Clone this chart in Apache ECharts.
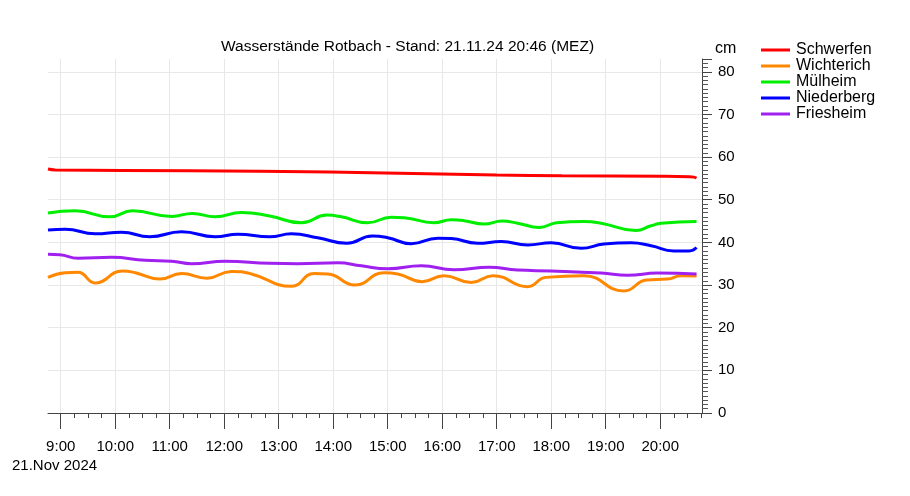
<!DOCTYPE html>
<html>
<head>
<meta charset="utf-8">
<script src="https://cdn.jsdelivr.net/npm/echarts@6/dist/echarts.min.js"></script>
<style>
html,body{margin:0;padding:0;background:#fff;}
#c{width:910px;height:496px;}
</style>
</head>
<body>
<div id="c"></div>
<script>
const DAY = '2024-11-21';
const titleText = 'Wasserstände Rotbach - Stand: 21.11.24 20:46 (MEZ)';
const dateLabel = '21.Nov 2024';
const unitLabel = 'cm';
const axisMin = '08:46';
const axisMax = '20:46';
const hourTicks = ['09:00','10:00','11:00','12:00','13:00','14:00','15:00','16:00','17:00','18:00','19:00','20:00'];
const quarterOffsets = [15, 30, 45];

const seriesNames = ['Schwerfen', 'Wichterich', 'Mülheim', 'Niederberg', 'Friesheim'];
const seriesColors = ['#ff0000', '#ff8800', '#00ee00', '#0000ff', '#a020f0'];

const schwerfenTimes  = ['08:46','08:54','11:22','13:56','17:00','18:12','20:02','20:32','20:37','20:40'];
const schwerfenValues = [57.2, 57.0, 56.8, 56.5, 55.8, 55.6, 55.5, 55.4, 55.3, 55.1];

const wichterichTimes  = ['08:46','09:05','09:19','09:38','10:08','10:22','10:49','11:13','11:41','12:08','12:30','13:14','13:39','13:54','14:24','14:56','15:11','15:38','16:02','16:32','16:56','17:34','17:54','18:36','19:20','19:45','20:08','20:23','20:40'];
const wichterichValues = [31.8, 32.9, 33.0, 30.5, 33.3, 32.9, 31.4, 32.7, 31.6, 33.2, 32.6, 29.7, 32.7, 32.6, 30.0, 32.9, 32.6, 30.8, 32.2, 30.6, 32.2, 29.6, 31.8, 32.2, 28.6, 31.2, 31.4, 32.2, 32.1];

const muelheimTimes  = ['08:46','09:16','09:54','10:19','11:02','11:25','11:50','12:19','12:50','13:25','13:53','14:09','14:38','15:04','15:18','15:51','16:10','16:24','16:46','17:06','17:23','17:47','18:06','18:36','18:55','19:33','19:50','20:01','20:40'];
const muelheimValues = [46.9, 47.4, 46.0, 47.4, 46.1, 46.8, 46.0, 47.0, 46.2, 44.6, 46.4, 46.0, 44.6, 45.9, 45.8, 44.6, 45.3, 45.1, 44.3, 45.0, 44.5, 43.5, 44.6, 44.9, 44.5, 42.8, 43.9, 44.5, 44.9];

const niederbergTimes  = ['08:46','09:05','09:38','10:07','10:38','11:13','11:50','12:15','12:50','13:14','13:43','14:15','14:43','15:00','15:26','15:55','16:10','16:39','17:05','17:34','18:00','18:33','18:58','19:28','19:50','20:15','20:32','20:40'];
const niederbergValues = [42.9, 43.1, 42.0, 42.4, 41.3, 42.5, 41.3, 41.9, 41.3, 42.0, 41.1, 39.8, 41.5, 41.1, 39.7, 41.0, 40.9, 39.8, 40.2, 39.4, 39.9, 38.6, 39.6, 39.9, 39.2, 38.0, 38.0, 38.8];

const friesheimTimes  = ['08:46','08:59','09:19','09:56','10:33','11:02','11:24','12:01','12:50','13:21','14:05','14:31','15:00','15:37','16:13','16:52','17:23','18:00','18:55','19:24','19:57','20:40'];
const friesheimValues = [37.2, 37.1, 36.3, 36.5, 35.8, 35.6, 35.0, 35.6, 35.1, 35.0, 35.2, 34.5, 33.8, 34.5, 33.6, 34.2, 33.5, 33.3, 32.8, 32.3, 32.8, 32.6];

const allTimes = [schwerfenTimes, wichterichTimes, muelheimTimes, niederbergTimes, friesheimTimes];
const allValues = [schwerfenValues, wichterichValues, muelheimValues, niederbergValues, friesheimValues];

function ts(hm) { return new Date(DAY + 'T' + hm + ':00').getTime(); }

const hourTs = hourTicks.map(ts);
const quarterTs = [];
hourTs.forEach(h => quarterOffsets.forEach(m => quarterTs.push(h + m * 60000)));

const FONT = "'Liberation Sans', Arial, Helvetica, sans-serif";

const series = seriesNames.map((name, i) => ({
  name: name,
  type: 'line',
  xAxisIndex: 0,
  showSymbol: false,
  smooth: 0.5,
  lineStyle: { color: seriesColors[i], width: 3 },
  itemStyle: { color: seriesColors[i] },
  data: allTimes[i].map((t, k) => [ts(t), allValues[i][k]])
}));

function hm(v) {
  const d = new Date(v);
  return d.getHours() + ':' + String(d.getMinutes()).padStart(2, '0');
}

const chart = echarts.init(document.getElementById('c'), null, { renderer: 'canvas' });
chart.setOption({
  animation: false,
  backgroundColor: '#fff',
  textStyle: { fontFamily: FONT },
  title: {
    text: titleText,
    left: 221,
    top: 39,
    padding: 0,
    textStyle: { fontFamily: FONT, fontSize: 15.5, fontWeight: 'normal', color: '#000' }
  },
  legend: {
    orient: 'vertical',
    left: 761,
    top: 42,
    padding: 0,
    itemGap: 0,
    itemWidth: 29,
    itemHeight: 3,
    icon: 'rect',
    textStyle: { fontFamily: FONT, fontSize: 16, color: '#000', lineHeight: 16, padding: [0, 0, 0, 1] },
    data: seriesNames
  },
  graphic: [
    { type: 'text', left: 12, top: 458, style: { text: dateLabel, font: '15px ' + FONT, fill: '#000' } },
    { type: 'text', left: 715, top: 41, style: { text: unitLabel, font: '16px ' + FONT, fill: '#000' } }
  ],
  grid: { left: 48, right: 208, top: 59, bottom: 83, containLabel: false },
  xAxis: [{
    type: 'time',
    min: ts(axisMin),
    max: ts(axisMax),
    axisLine: { show: true, lineStyle: { color: '#444', width: 1 } },
    axisTick: { show: false },
    minorTick: { show: false },
    axisLabel: { show: false },
    splitLine: { show: true, showMinLine: false, showMaxLine: false, lineStyle: { color: '#e8e8e8', width: 1 } }
  }, {
    type: 'value',
    position: 'bottom',
    min: ts(axisMin),
    max: ts(axisMax),
    axisLine: { show: false },
    axisTick: { show: true, length: 16, customValues: hourTs, lineStyle: { color: '#444' } },
    splitLine: { show: false },
    axisLabel: {
      show: true,
      margin: 26,
      customValues: hourTs,
      fontFamily: FONT, fontSize: 15, color: '#000',
      formatter: hm
    }
  }, {
    type: 'value',
    position: 'bottom',
    min: ts(axisMin),
    max: ts(axisMax),
    axisLine: { show: false },
    axisTick: { show: true, length: 5, customValues: quarterTs, lineStyle: { color: '#444' } },
    axisLabel: { show: false },
    splitLine: { show: false }
  }],
  yAxis: {
    type: 'value',
    position: 'right',
    min: 0,
    max: 83,
    interval: 10,
    axisLine: { show: true, lineStyle: { color: '#444', width: 1 } },
    axisTick: { show: true, length: 10, lineStyle: { color: '#444' } },
    minorTick: { show: true, splitNumber: 10, length: 6, lineStyle: { color: '#555' } },
    splitLine: { show: true, showMinLine: false, showMaxLine: false, lineStyle: { color: '#e8e8e8', width: 1 } },
    axisLabel: {
      margin: 16,
      fontFamily: FONT, fontSize: 15, color: '#000',
      showMaxLabel: false,
      formatter: function (v) { return (v % 10 === 0) ? String(v) : ''; }
    }
  },
  series: series
});
</script>
</body>
</html>
